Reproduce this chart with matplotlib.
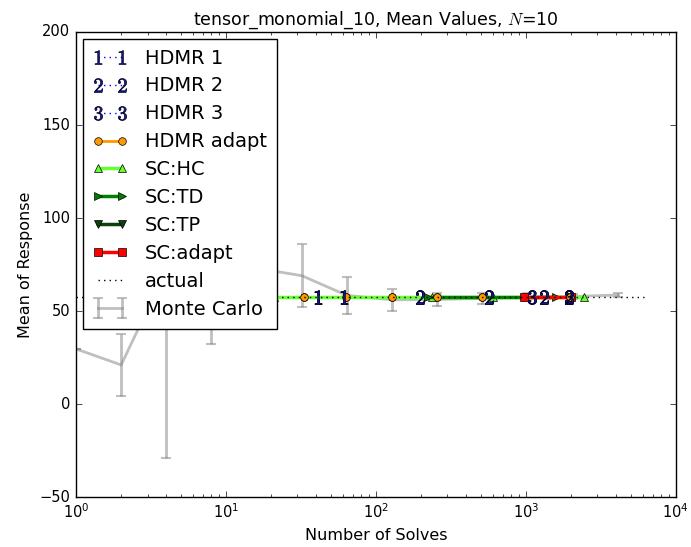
import matplotlib
matplotlib.use("Agg")
import matplotlib.pyplot as plt

plt.style.use("classic")
plt.rcParams["mathtext.fontset"] = "cm"

# ---- data -------------------------------------------------------------
actual_mean = 57.5

hdmr1_n = [41, 61]
hdmr1_mean = [57.5, 57.5]

hdmr2_n = [197, 565, 1320, 1950]
hdmr2_mean = [57.5, 57.5, 57.5, 57.5]

hdmr3_n = [1100, 1950]
hdmr3_mean = [57.5, 57.5]

hdmr_adapt_n = [33, 63, 129, 257, 513, 1985]
hdmr_adapt_mean = [57.5, 57.5, 57.5, 57.5, 57.5, 57.5]

sc_hc_n = [21, 237, 607, 2430]
sc_hc_mean = [57.5, 57.5, 57.5, 57.5]

sc_td_n = [221, 1581]
sc_td_mean = [57.5, 57.5]

sc_tp_n = [59049]
sc_tp_mean = [57.5]

sc_adapt_n = [975, 1990]
sc_adapt_mean = [57.5, 57.5]

actual_n = [1, 6500]

mc_n = [1, 2, 4, 8, 16, 32, 64, 128, 256, 512, 1024, 2048, 4096]
mc_mean = [29.6, 21.0, 72.0, 65.0, 73.0, 69.0, 58.4, 56.0, 56.2, 56.8, 57.5, 57.8, 58.6]
mc_err = [0.0, 16.5, 101.0, 33.0, 20.0, 17.0, 10.0, 6.0, 3.5, 3.0, 2.0, 1.5, 1.0]

# ---- figure -----------------------------------------------------------
fig = plt.figure(figsize=(6.91, 5.47), dpi=100)
ax = fig.add_axes([0.110, 0.0914, 0.868, 0.8501])

ax.errorbar(mc_n, mc_mean, yerr=mc_err, color="0.5", alpha=0.5, lw=2,
            elinewidth=2, capsize=3.5, capthick=1.5, label="Monte Carlo", zorder=1)

digit_style = dict(markersize=10, mec="#000033", mfc="#1a1a80")
hdmr_sets = [(hdmr1_n, hdmr1_mean, "1", "HDMR 1"),
             (hdmr2_n, hdmr2_mean, "2", "HDMR 2"),
             (hdmr3_n, hdmr3_mean, "3", "HDMR 3")]
for n, m, d, lab in hdmr_sets:
    ax.plot(n, m, "b:", marker=r"$\mathbf{%s}$" % d, label=lab, zorder=2,
            **digit_style)

orange = "#ff9900"
ax.plot(hdmr_adapt_n, hdmr_adapt_mean, color=orange, lw=2, marker="o",
        markersize=5.5, mfc=orange, mec="k", label="HDMR adapt", zorder=2.5)
ax.plot(sc_hc_n, sc_hc_mean, color="#66ff33", lw=2.5, marker="^",
        markersize=6, mfc="#66ff33", mec="k", label="SC:HC", zorder=3)
ax.plot(sc_td_n, sc_td_mean, color="#008000", lw=2.5, marker=">",
        markersize=6, mfc="#008000", mec="k", label="SC:TD", zorder=3)
ax.plot(sc_tp_n, sc_tp_mean, color="#0d400d", lw=2.5, marker="v",
        markersize=6, mfc="#0d400d", mec="k", label="SC:TP", zorder=3)
ax.plot(sc_adapt_n, sc_adapt_mean, color="r", lw=2.5, marker="s",
        markersize=5.5, mfc="r", mec="k", label="SC:adapt", zorder=3)
ax.plot(actual_n, [actual_mean, actual_mean], "k:", lw=1, label="actual", zorder=5)

# markers kept visible above the coloured lines
ax.plot(hdmr_adapt_n, hdmr_adapt_mean, ls="none", marker="o", markersize=5.5,
        mfc=orange, mec="k", zorder=4)
for n, m, d, lab in hdmr_sets:
    ax.plot(n, m, ls="none", marker=r"$\mathbf{%s}$" % d, zorder=6, **digit_style)

ax.set_xscale("log")
ax.set_xlim(1, 1e4)
ax.set_ylim(-50, 200)
ax.set_yticks([-50, 0, 50, 100, 150, 200])
ax.tick_params(labelsize=10.5)
ax.set_xlabel("Number of Solves", fontsize=11.5)
ax.set_ylabel("Mean of Response", fontsize=11.5)
ax.set_title(r"tensor_monomial_10, Mean Values, $N$=10", fontsize=12.5)

leg = ax.legend(loc="upper left", fontsize=14, numpoints=2, borderaxespad=0.35,
                handlelength=1.8, labelspacing=0.46, handletextpad=0.9,
                borderpad=0.5)
leg.set_zorder(10)

fig.savefig("out.png", dpi=100)
